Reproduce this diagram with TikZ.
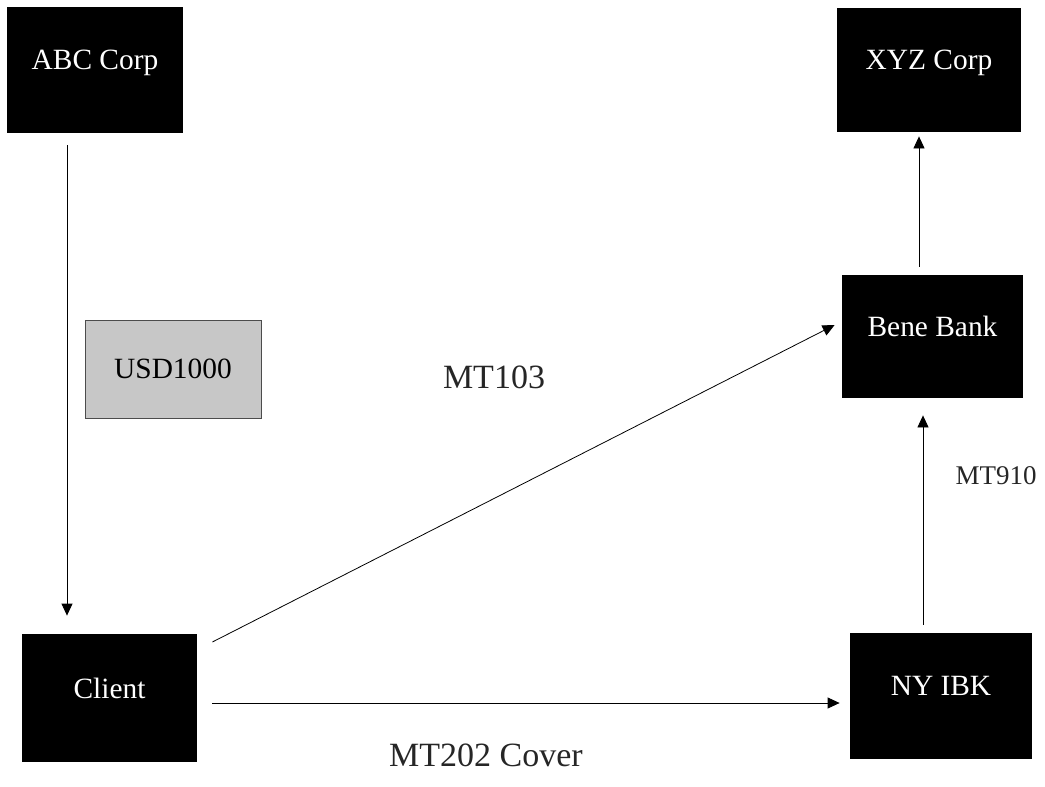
\documentclass[tikz,border=0pt]{standalone}
\usepackage{fontspec}
\setmainfont{Liberation Serif}
\usetikzlibrary{arrows.meta,positioning}
\tikzset{party/.style={fill=black, text=white, inner sep=0pt, text depth=10pt, font=\fontsize{14.7}{17}\selectfont}}
\tikzset{flow/.style={thin, -{Triangle[length=6pt, width=5.5pt]}}}
\tikzset{msg/.style={text=black!85, inner sep=0pt}}

\begin{document}
\begin{tikzpicture}[x=0.5pt, y=-0.5pt]
  \useasboundingbox (0,0) rectangle (1045,787);

  % parties
  \node[party, minimum width=88pt, minimum height=63pt] (abc) at (95,70) {ABC Corp};
  \node[party, minimum width=92pt, minimum height=62pt] (xyz) at (929,70) {XYZ Corp};
  \node[party, minimum width=90.5pt, minimum height=61.5pt] (bene) at (932.5,336.5) {Bene Bank};
  \node[party, minimum width=87.5pt, minimum height=64pt] (client) at (109.5,698) {Client};
  \node[party, minimum width=91pt, minimum height=63pt] (nyibk) at (941,696) {NY IBK};

  % amount
  \node[draw=black!70, fill=black!22, minimum width=88pt, minimum height=49pt,
        inner sep=0pt, font=\fontsize{14.7}{17}\selectfont] (usd) at (173,369) {USD1000};

  % flows
  \draw[flow] ([xshift=-14pt, yshift=-6pt]abc.south) -- ([xshift=-21.25pt, yshift=9pt]client.north);
  \draw[flow] ([xshift=-6.75pt, yshift=4pt]bene.north) -- ([xshift=-5pt, yshift=-2pt]xyz.south);
  \draw[flow] ([xshift=-9pt, yshift=4pt]nyibk.north) -- ([xshift=-4.75pt, yshift=-8.5pt]bene.south);
  \draw[flow] ([xshift=7.5pt, yshift=-2.5pt]client.east) -- ([xshift=-5pt, yshift=-3.5pt]nyibk.west);
  \draw[flow] ([xshift=7.5pt, yshift=28pt]client.east) -- ([xshift=-3.5pt, yshift=5.75pt]bene.west);

  % messages
  \node[msg, font=\fontsize{17}{20}\selectfont] (mt103) at (494,377) {MT103};
  \node[msg, font=\fontsize{17}{20}\selectfont] (mt202) at (486,755) {MT202 Cover};
  \node[msg, font=\fontsize{13.5}{16}\selectfont] (mt910) at (996,476) {MT910};
\end{tikzpicture}
\end{document}
